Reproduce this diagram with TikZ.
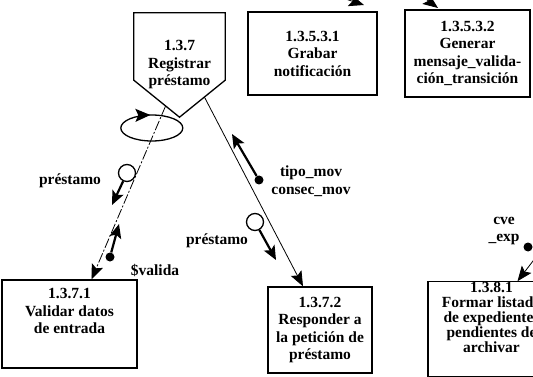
\documentclass[tikz,border=0pt]{standalone}
\usepackage{fontspec}
\setmainfont{Liberation Serif}
\usepackage{tikz}
\usetikzlibrary{shapes.geometric,arrows.meta,positioning,calc,decorations.markings}
\newcommand{\procfont}{\fontsize{15.5}{17.5}\selectfont\bfseries}
\tikzset{
  procbox/.style={draw,line width=1.3pt,align=center,font=\procfont,inner sep=0pt},
  lbl/.style={font=\procfont,align=center,inner sep=1pt},
  flowarr/.style={-{Stealth[length=15pt,width=12pt,inset=3pt]},line width=0.8pt},
  ddarr/.style={flowarr,dash pattern=on 10pt off 2pt on 2pt off 2pt},
  cplarr/.style={-{Stealth[length=14pt,width=12pt,inset=3pt]},line width=2.2pt},
  opencpl/.style={circle,draw,line width=1.3pt,minimum size=17pt,inner sep=0pt},
  dotcpl/.style={circle,fill,minimum size=9pt,inner sep=0pt}
}
\begin{document}
\begin{tikzpicture}[x=1pt,y=-1pt]
    \useasboundingbox (0,0) rectangle (533,377);
    \clip (0,0) rectangle (533,377);
    % Registrar prestamo (off-page shape)
    \node[font=\procfont,align=center,minimum width=91pt,minimum height=104pt,inner sep=0pt]
      (p137) at (179.5,65) {1.3.7\\Registrar\\préstamo};
    \draw[line width=1.3pt] (p137.north west) -- (p137.north east)
      -- ([yshift=37pt]p137.south east) -- (p137.south)
      -- ([yshift=37pt]p137.south west) -- cycle;
    % loop
    \node[ellipse,minimum width=62pt,minimum height=26pt,inner sep=0pt] (loop) at (152,128) {};
    \draw[line width=1.3pt,postaction={decorate},
      decoration={markings,mark=at position 0.24 with {\arrow{Stealth[length=15pt,width=13pt,inset=3pt]}}}]
      (loop.west) arc[start angle=180,end angle=-180,x radius=31pt,y radius=13pt];
    % process boxes
    \node[procbox,minimum width=129pt,minimum height=83pt] (b13531) at (312.5,53.5)
      {1.3.5.3.1\\Grabar\\notificación};
    \node[procbox,minimum width=125pt,minimum height=87pt] (b13532) at (467.5,53.5)
      {1.3.5.3.2\\Generar\\mensaje\_valida-\\ción\_transición};
    \node[procbox,minimum width=135pt,minimum height=88pt,text depth=26pt] (b1371) at (69.5,324)
      {1.3.7.1\\Validar datos\\de entrada};
    \node[procbox,minimum width=104pt,minimum height=86pt] (b1372) at (320,330)
      {1.3.7.2\\Responder a\\la petición de\\préstamo};
    \node[procbox,minimum width=127pt,minimum height=88pt,text depth=24pt,
      font=\fontsize{15.5}{15}\selectfont\bfseries] (b1381) at (491.5,329)
      {1.3.8.1\\Formar listado\\de expedientes\\pendientes de\\archivar};
    % flows
    \draw[ddarr] ([xshift=-14pt,yshift=11pt]p137.south) -- ([xshift=22pt]b1371.north);
    \draw[flowarr] ([xshift=25pt,yshift=20pt]p137.south) -- ([xshift=-17pt]b1372.north);
    \coordinate (offa) at (330,-6);
    \coordinate (offb) at (415,-9);
    \coordinate (offc) at (546,244);
    \coordinate (tipa) at (364,5);
    \coordinate (tipb) at (438,8);
    \draw[flowarr] (offa) -- (tipa);
    \draw[flowarr] (offb) -- (tipb);
    \draw[flowarr] (offc) -- ([xshift=26pt]b1381.north);
    % couples
    \node[opencpl] (cpa) at (127,173) {};
    \coordinate (cpae) at (112,205);
    \draw[cplarr] (cpa) -- (cpae);
    \node[lbl] (lpa) at (70,181) {préstamo};
    \node[dotcpl] (cva) at (110,257) {};
    \coordinate (cvae) at (119,224);
    \draw[cplarr] (cva) -- (cvae);
    \node[lbl] (lva) at (155,270) {\$valida};
    \node[dotcpl] (ctm) at (259,180) {};
    \coordinate (ctme) at (232,134);
    \draw[cplarr] (ctm) -- (ctme);
    \node[lbl] (ltm) at (311,181) {tipo\_mov\\consec\_mov};
    \node[opencpl] (cpb) at (255,222) {};
    \coordinate (cpbe) at (276,260);
    \draw[cplarr] (cpb) -- (cpbe);
    \node[lbl] (lpb) at (217,241) {préstamo};
    \node[dotcpl] (cce) at (528,247) {};
    \node[lbl] (lce) at (504,231) {cve\\\_exp};
\end{tikzpicture}
\end{document}
